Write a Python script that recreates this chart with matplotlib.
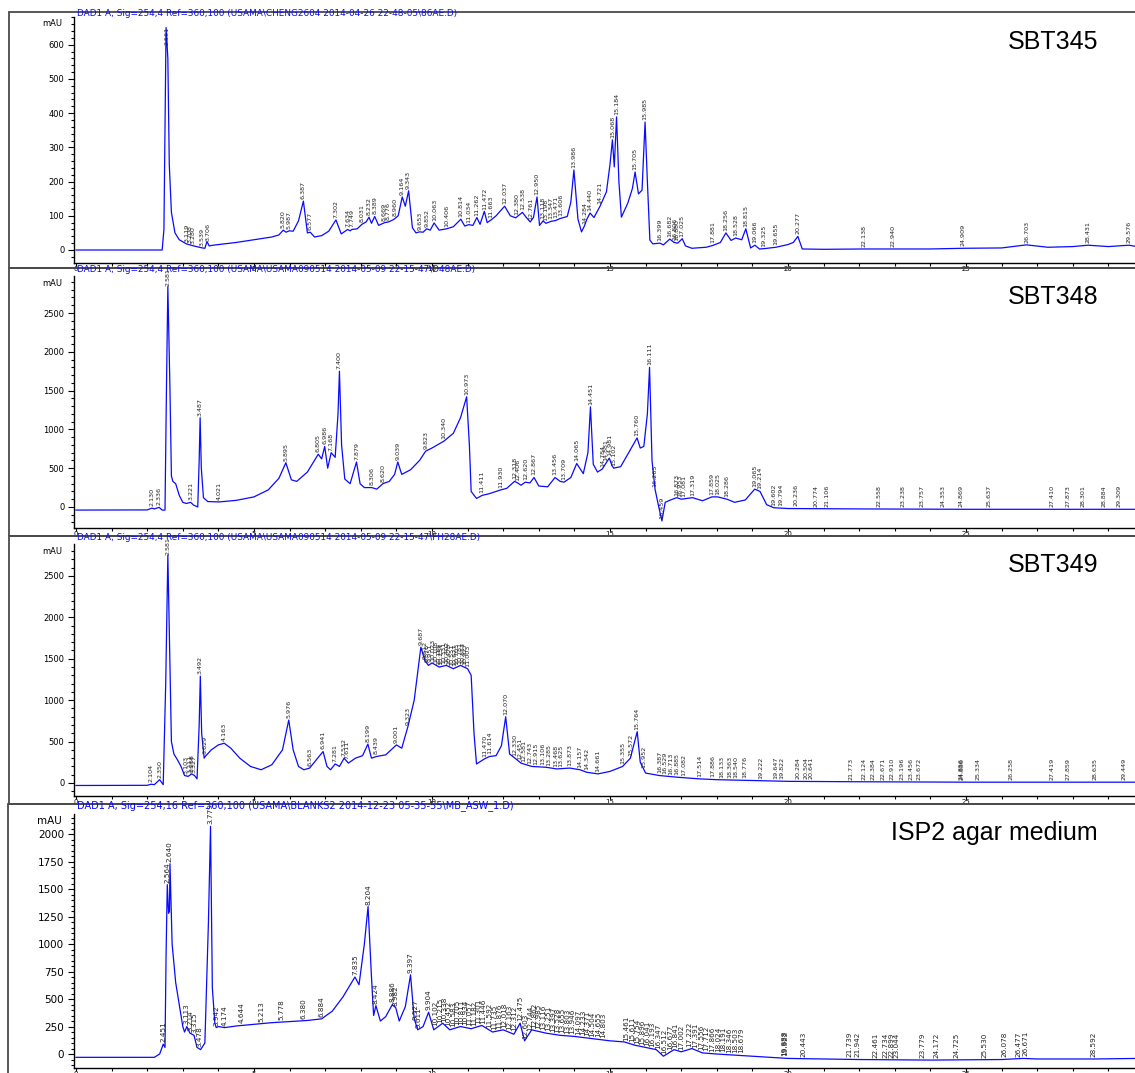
import matplotlib
matplotlib.use("Agg")
import matplotlib.pyplot as plt
from matplotlib.patches import Rectangle
from matplotlib.ticker import MultipleLocator
import numpy as np

# ---- data (time in min, signal in mAU) ----
sbt345_t = [0, 2.42, 2.47, 2.53, 2.58, 2.62, 2.68, 2.78, 2.9, 3.1, 3.3, 3.55, 3.62, 3.68, 3.74, 3.85,
            4.5, 5.0, 5.5, 5.7, 5.82, 5.9, 5.99, 6.1, 6.25, 6.387, 6.5, 6.58, 6.7, 6.9, 7.1, 7.302,
            7.45, 7.63, 7.7, 7.75, 7.9, 8.03, 8.15, 8.23, 8.3, 8.39, 8.5, 8.67, 8.78, 8.9, 8.96, 9.05,
            9.164, 9.25, 9.343, 9.45, 9.55, 9.65, 9.75, 9.85, 9.95, 10.06, 10.2, 10.41, 10.6, 10.81,
            10.92, 11.03, 11.15, 11.26, 11.35, 11.47, 11.55, 11.66, 11.8, 12.04, 12.2, 12.35, 12.54,
            12.65, 12.76, 12.85, 12.95, 13.02, 13.12, 13.2, 13.35, 13.47, 13.6, 13.8, 13.9, 13.986,
            14.1, 14.2, 14.28, 14.35, 14.44, 14.55, 14.72, 14.9, 15.0, 15.068, 15.12, 15.184, 15.25,
            15.32, 15.5, 15.63, 15.705, 15.8, 15.9, 15.985, 16.05, 16.12, 16.2, 16.4, 16.5, 16.68,
            16.8, 16.9, 17.03, 17.12, 17.3, 17.7, 17.88, 18.1, 18.256, 18.4, 18.53, 18.7, 18.815,
            18.95, 19.07, 19.2, 19.33, 19.66, 20.0, 20.15, 20.277, 20.4, 21.0, 22.14, 22.94, 24.0,
            24.91, 26.0, 26.7, 27.3, 28.0, 28.43, 29.0, 29.58, 29.8]
sbt345_y = [0, 0, 60, 650, 560, 250, 110, 50, 30, 18, 12, 6, 5, 25, 12, 14,
            22, 30, 38, 44, 58, 52, 56, 55, 85, 143, 50, 52, 38, 42, 55, 88,
            47, 60, 56, 60, 62, 75, 82, 96, 78, 98, 72, 80, 82, 88, 92, 100,
            155, 128, 173, 65, 50, 53, 52, 62, 58, 79, 58, 62, 68, 90,
            70, 74, 72, 95, 75, 113, 80, 88, 100, 128, 100, 94, 110,
            95, 82, 95, 155, 72, 85, 78, 84, 86, 92, 98, 140, 234,
            90, 53, 70, 90, 108, 95, 128, 170, 250, 322, 243, 389, 200,
            96, 137, 180, 228, 164, 175, 374, 200, 29, 18, 20, 15, 32,
            22, 20, 33, 12, 5, 8, 13, 22, 50, 28, 35, 30, 62,
            6, 14, 3, 4, 8, 16, 22, 40, 3, 2, 3, 3, 3,
            5, 6, 15, 8, 10, 14, 10, 14, 10]
sbt345_peaks = [2.561, 3.119, 3.208, 3.280, 3.539, 3.706, 5.820, 5.987, 6.387, 6.577, 7.302, 7.634,
                7.749, 8.031, 8.232, 8.389, 8.669, 8.776, 8.960, 9.164, 9.343, 9.653, 9.852, 10.063,
                10.406, 10.814, 11.034, 11.262, 11.472, 11.663, 12.037, 12.380, 12.538, 12.761,
                12.950, 13.118, 13.198, 13.347, 13.471, 13.606, 13.986, 14.284, 14.440, 14.721,
                15.068, 15.184, 15.705, 15.985, 16.399, 16.682, 16.806, 16.880, 17.025, 17.881,
                18.256, 18.528, 18.815, 19.066, 19.325, 19.655, 20.277, 22.138, 22.940, 24.909,
                26.703, 28.431, 29.576]

sbt348_t = [0, 2.0, 2.13, 2.2, 2.336, 2.42, 2.5, 2.54, 2.58, 2.64, 2.68, 2.72, 2.8, 2.9, 3.0, 3.1,
            3.221, 3.3, 3.42, 3.46, 3.487, 3.52, 3.58, 3.7, 4.021, 4.5, 5.0, 5.4, 5.7, 5.895, 6.05,
            6.2, 6.5, 6.805, 6.9, 6.986, 7.07, 7.168, 7.28, 7.36, 7.4, 7.46, 7.55, 7.7, 7.879, 7.98,
            8.1, 8.306, 8.45, 8.62, 8.8, 8.95, 9.039, 9.15, 9.4, 9.65, 9.823, 10.0, 10.34, 10.6,
            10.8, 10.973, 11.05, 11.1, 11.25, 11.411, 11.6, 11.93, 12.1, 12.318, 12.406, 12.5,
            12.62, 12.75, 12.867, 13.0, 13.25, 13.456, 13.6, 13.709, 13.9, 14.065, 14.25, 14.38,
            14.451, 14.53, 14.65, 14.784, 14.88, 14.981, 15.05, 15.102, 15.3, 15.55, 15.76, 15.85,
            15.95, 16.05, 16.111, 16.18, 16.265, 16.36, 16.459, 16.55, 16.7, 16.873, 17.0, 17.319,
            17.6, 17.859, 18.025, 18.286, 18.5, 18.8, 19.065, 19.214, 19.4, 19.6, 20.0, 22.0, 25.0,
            29.8]
sbt348_y = [-40, -38, -15, -25, -5, -40, -40, 1500, 2840, 1500, 400, 330, 300, 150, 60, 45,
            60, 25, 0, 600, 1150, 500, 120, 70, 65, 85, 130, 220, 370, 570, 350,
            330, 450, 680, 620, 780, 500, 700, 640, 1200, 1750, 800, 360, 300, 580, 300,
            250, 250, 230, 300, 330, 420, 580, 420, 480, 600, 720, 760, 850, 950,
            1150, 1420, 800, 200, 110, 150, 170, 220, 240, 330, 310, 280,
            320, 310, 380, 270, 260, 380, 330, 320, 380, 560, 430, 700,
            1290, 550, 450, 490, 560, 630, 540, 500, 520, 720, 890, 760,
            780, 1200, 1800, 600, 230, 20, -180, 60, 90, 120, 100, 120,
            80, 130, 130, 100, 60, 90, 230, 200, 30, -10, -20, -25, -30,
            -30]
sbt348_peaks = [2.130, 2.336, 2.581, 3.221, 3.487, 4.021, 5.895, 6.805, 6.986, 7.168, 7.400, 7.879,
                8.306, 8.620, 9.039, 9.823, 10.340, 10.973, 11.411, 11.930, 12.318, 12.406, 12.620,
                12.867, 13.456, 13.709, 14.065, 14.451, 14.784, 14.881, 14.981, 15.102, 15.760,
                16.111, 16.265, 16.459, 16.873, 16.953, 17.081, 17.319, 17.859, 18.025, 18.286,
                19.065, 19.214, 19.602, 19.794, 20.236, 20.774, 21.106, 22.558, 23.238, 23.757,
                24.353, 24.869, 25.637, 27.410, 27.873, 28.301, 28.884, 29.309]

sbt349_t = [0, 2.0, 2.104, 2.2, 2.35, 2.45, 2.52, 2.58, 2.64, 2.68, 2.75, 2.85, 2.95, 3.05, 3.15,
            3.25, 3.33, 3.4, 3.46, 3.492, 3.53, 3.6, 3.629, 3.8, 4.0, 4.163, 4.35, 4.6, 4.9, 5.2,
            5.5, 5.8, 5.976, 6.1, 6.25, 6.4, 6.563, 6.75, 6.941, 7.05, 7.15, 7.281, 7.4, 7.532,
            7.65, 7.85, 8.05, 8.199, 8.3, 8.44, 8.7, 9.001, 9.15, 9.323, 9.5, 9.687, 9.8, 9.9,
            10.0, 10.2, 10.4, 10.6, 10.8, 11.0, 11.1, 11.18, 11.25, 11.47, 11.614, 11.8, 11.95,
            12.07, 12.18, 12.33, 12.5, 12.8, 13.2, 13.5, 13.873, 14.157, 14.342, 14.661, 15.0,
            15.355, 15.572, 15.764, 15.85, 16.0, 16.387, 16.885, 17.5, 18.0, 19.0, 20.0, 22.0,
            25.0, 29.8]
sbt349_y = [-30, -28, -15, -20, 40, -20, 1200, 2750, 1400, 500, 350, 280, 200, 90, 80,
            110, 90, 50, 700, 1290, 600, 300, 320, 400, 460, 480, 420, 300, 200, 160,
            220, 400, 760, 400, 200, 160, 180, 280, 380, 200, 160, 230, 200, 300,
            240, 300, 330, 470, 300, 320, 340, 460, 420, 680, 1000, 1640, 1480, 1420,
            1450, 1400, 1420, 1380, 1420, 1380, 1300, 600, 230, 290, 320, 330, 450,
            800, 350, 300, 240, 200, 190, 170, 180, 160, 130, 110, 140,
            200, 300, 620, 250, 120, 90, 70, 50, 40, 30, 20, 15,
            10, 10]
sbt349_peaks = [2.104, 2.350, 2.581, 3.103, 3.211, 3.258, 3.327, 3.492, 3.629, 4.163, 5.976, 6.563,
                6.941, 7.281, 7.532, 7.611, 8.199, 8.439, 9.001, 9.323, 9.687, 9.812, 9.876, 9.951,
                10.023, 10.108, 10.186, 10.254, 10.331, 10.402, 10.478, 10.551, 10.627, 10.703,
                10.781, 10.853, 10.927, 11.003, 11.470, 11.614, 12.070, 12.330, 12.451, 12.581,
                12.743, 12.915, 13.106, 13.285, 13.468, 13.625, 13.873, 14.157, 14.342, 14.661,
                15.355, 15.572, 15.764, 15.952, 16.387, 16.529, 16.713, 16.885, 17.082, 17.514,
                17.886, 18.133, 18.363, 18.540, 18.776, 19.222, 19.647, 19.822, 20.284, 20.504,
                20.641, 21.773, 22.124, 22.384, 22.671, 22.910, 23.196, 23.456, 23.672, 24.856,
                24.886, 25.334, 26.258, 27.419, 27.859, 28.635, 29.449]

isp2_t = [0, 2.2, 2.35, 2.451, 2.5, 2.53, 2.564, 2.6, 2.625, 2.64, 2.7, 2.8, 2.9, 3.0, 3.05, 3.113,
          3.2, 3.315, 3.4, 3.5, 3.62, 3.72, 3.779, 3.83, 3.9, 3.94, 4.0, 4.174, 4.5, 5.0, 5.5, 6.0,
          6.5, 6.9, 7.2, 7.5, 7.835, 7.95, 8.1, 8.204, 8.3, 8.36, 8.424, 8.55, 8.7, 8.886, 8.982,
          9.08, 9.25, 9.397, 9.5, 9.6, 9.75, 9.904, 10.05, 10.3, 10.5, 10.8, 11.1, 11.4, 11.7,
          12.0, 12.3, 12.475, 12.6, 12.8, 13.2, 13.6, 14.0, 14.5, 15.0, 15.4, 15.7, 16.0, 16.3,
          16.5, 16.8, 17.0, 17.3, 17.6, 18.0, 18.5, 19.0, 20.0, 22.0, 24.0, 26.0, 26.6, 27.0,
          28.6, 29.8]
isp2_y = [-30, -30, 0, 90, 60, 900, 1540, 1280, 1300, 1730, 1000, 650, 450, 250, 200, 250,
          190, 170, 60, 40, 100, 1200, 2070, 600, 280, 240, 250, 240, 255, 270, 285, 295,
          305, 320, 390, 520, 700, 630, 1000, 1340, 700, 350, 440, 300, 340, 450, 420,
          300, 430, 720, 320, 220, 250, 380, 220, 280, 220, 250, 230, 260, 200,
          220, 180, 280, 120, 220, 190, 170, 160, 140, 120, 110, 80, 60, 40,
          -20, 40, 20, 50, 10, 0, -10, -20, -40, -50, -55, -50, -40, -45,
          -45, -40]
isp2_peaks = [2.451, 2.564, 2.640, 3.113, 3.214, 3.315, 3.478, 3.779, 3.942, 4.174, 4.644, 5.213,
              5.778, 6.380, 6.884, 7.835, 8.204, 8.424, 8.886, 8.982, 9.397, 9.527, 9.611, 9.904,
              10.102, 10.215, 10.338, 10.452, 10.583, 10.705, 10.811, 10.934, 11.057, 11.182,
              11.301, 11.446, 11.592, 11.735, 11.876, 12.018, 12.163, 12.312, 12.475, 12.603,
              12.744, 12.862, 12.985, 13.116, 13.251, 13.397, 13.528, 13.655, 13.803, 13.946,
              14.097, 14.233, 14.371, 14.504, 14.655, 14.803, 15.461, 15.611, 15.754, 15.896,
              16.041, 16.193, 16.347, 16.512, 16.677, 16.841, 17.002, 17.222, 17.391, 17.556,
              17.712, 17.866, 18.024, 18.191, 18.346, 18.503, 18.679, 19.888, 19.922, 20.443,
              21.739, 21.942, 22.461, 22.734, 22.899, 23.044, 23.779, 24.172, 24.725, 25.530,
              26.078, 26.477, 26.671, 28.592]

sample_names = ["SBT345", "SBT348", "SBT349", "ISP2 agar medium"]
run_titles = [
    "DAD1 A, Sig=254,4 Ref=360,100 (USAMA\\CHENG2604 2014-04-26 22-48-05\\86AE.D)",
    "DAD1 A, Sig=254,4 Ref=360,100 (USAMA\\USAMA090514 2014-05-09 22-15-47\\D48AE.D)",
    "DAD1 A, Sig=254,4 Ref=360,100 (USAMA\\USAMA090514 2014-05-09 22-15-47\\FH28AE.D)",
    "DAD1 A, Sig=254,16 Ref=360,100 (USAMA\\BLANKS2 2014-12-23 05-35-55\\MB_ASW_1.D)",
]

W, H = 1135, 1073
BLUE = "#0a0aff"


def fx(px):
    return px / W


def fy(py):
    return 1 - py / H


fig = plt.figure(figsize=(W / 100, H / 100), dpi=100)

# pixel layout of each panel: frame top, axes top, axes bottom, ylim, y step
layout = [
    dict(frame=(9, 12, 268), top=17, bottom=263, ylim=(-38, 681), major=100, minor=20,
         ytick_fs=6, lab_fs=4.6, title_fs=6.4, name_y=42),
    dict(frame=(9, 268, 536), top=276, bottom=528, ylim=(-271, 2977), major=500, minor=100,
         ytick_fs=6, lab_fs=4.6, title_fs=6.4, name_y=297),
    dict(frame=(9, 536, 804), top=544, bottom=796, ylim=(-157, 2886), major=500, minor=100,
         ytick_fs=6, lab_fs=4.6, title_fs=6.4, name_y=565),
    dict(frame=(8, 804, 1085), top=814, bottom=1068, ylim=(-127, 2182), major=250, minor=50,
         ytick_fs=7.5, lab_fs=5.2, title_fs=7.0, name_y=833),
]

traces = [(sbt345_t, sbt345_y, sbt345_peaks), (sbt348_t, sbt348_y, sbt348_peaks),
          (sbt349_t, sbt349_y, sbt349_peaks), (isp2_t, isp2_y, isp2_peaks)]

x0_px, px_per_min = 76, 35.6
ax_left = 74

for i, (lay, (t, y, peaks)) in enumerate(zip(layout, traces)):
    # outer frame of the panel
    fl, ft, fb = lay["frame"]
    fig.add_artist(Rectangle((fx(fl), fy(fb)), fx(W + 20 - fl), fy(ft) - fy(fb),
                             transform=fig.transFigure, fill=False, ec="#4a4a4a", lw=1.3))

    ax = fig.add_axes([fx(ax_left), fy(lay["bottom"]), fx(W - ax_left),
                       (lay["bottom"] - lay["top"]) / H])
    ax.plot(t, y, color=BLUE, lw=0.9)
    ax.set_xlim((ax_left - x0_px) / px_per_min, (W - x0_px) / px_per_min)
    ax.set_ylim(*lay["ylim"])
    ax.patch.set_alpha(0)

    for s in ["top", "right"]:
        ax.spines[s].set_visible(False)
    ax.spines["left"].set_linewidth(1.0)
    ax.spines["bottom"].set_linewidth(1.0)

    ax.xaxis.set_major_locator(MultipleLocator(5))
    ax.xaxis.set_minor_locator(MultipleLocator(1))
    ax.yaxis.set_major_locator(MultipleLocator(lay["major"]))
    ax.yaxis.set_minor_locator(MultipleLocator(lay["minor"]))
    ax.set_yticks(np.arange(0, lay["ylim"][1], lay["major"]))
    ax.tick_params(axis="y", which="major", length=4.5, width=0.8, pad=2.5, labelsize=lay["ytick_fs"])
    ax.tick_params(axis="y", which="minor", length=2.5, width=0.8)
    ax.tick_params(axis="x", which="both", length=2, width=0.8, pad=0.5, labelsize=5)

    # retention time labels above each peak
    for pt in peaks:
        yv = np.interp(pt, t, y)
        ax.annotate(f"{pt:.3f}", (pt, yv), xytext=(0, 1.5), textcoords="offset points",
                    rotation=90, ha="center", va="bottom", fontsize=lay["lab_fs"],
                    color="#222222")

    fig.text(fx(77), fy(ft + 2), run_titles[i], color=BLUE, fontsize=lay["title_fs"],
             ha="left", va="center")
    fig.text(fx(62), fy(lay["top"] + 7), "mAU", fontsize=lay["ytick_fs"], ha="right", va="center")
    fig.text(fx(1098), fy(lay["name_y"]), sample_names[i], fontsize=18,
             family="Liberation Sans", ha="right", va="center")

plt.savefig("out.png", dpi=100)
